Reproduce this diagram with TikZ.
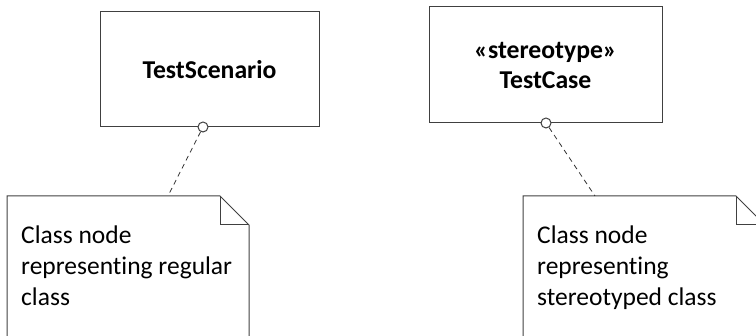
\documentclass[tikz,border=0pt]{standalone}
\usepackage{fontspec}
\setmainfont[Ligatures={NoCommon}]{Carlito}
\begin{document}
\begin{tikzpicture}[x=1pt,y=-1pt,
  classbox/.style={draw=black!75, line width=1pt, rectangle, inner sep=0pt,
    font=\fontsize{25.7}{30}\selectfont\bfseries, align=center},
  notetext/.style={anchor=north west, inner sep=0pt, align=left,
    font=\fontsize{25.5}{31}\selectfont},
  noteline/.style={draw=black!75, line width=1pt, line join=miter},
  port/.style={circle, draw=black!75, line width=1pt, fill=white,
    minimum size=10pt, inner sep=0pt},
  link/.style={draw=black!80, line width=0.8pt, dash pattern=on 5pt off 4pt}]
\clip (0,0) rectangle (756,336);

% class boxes
\node[classbox, minimum width=219pt, minimum height=115pt] (scen) at (209.5,69.5) {TestScenario};
\node[classbox, minimum width=233pt, minimum height=116pt] (tcase) at (545.5,65) {«stereotype»\\TestCase};

% notes (dog-eared)
\path[noteline] (7,345) -- (7,196) -- (220,196) -- (249,225) -- (249,345);
\path[noteline] (220,196) -- (220,225) -- (249,225);
\path[noteline] (523,345) -- (523,196) -- (736,196) -- (765,225) -- (765,345);
\path[noteline] (736,196) -- (736,225) -- (765,225);
\node[notetext] (noteA) at (21,226) {Class node\\representing regular\\class};
\node[notetext] (noteB) at (537,226) {Class node\\representing\\stereotyped class};
\coordinate (attA) at (168,196);
\coordinate (attB) at (595,196);

% attachment points and dashed links
\node[port] (portA) at (203,127) {};
\node[port] (portB) at (546,123) {};
\draw[link] (portA) -- (attA);
\draw[link] (portB) -- (attB);
\end{tikzpicture}
\end{document}
